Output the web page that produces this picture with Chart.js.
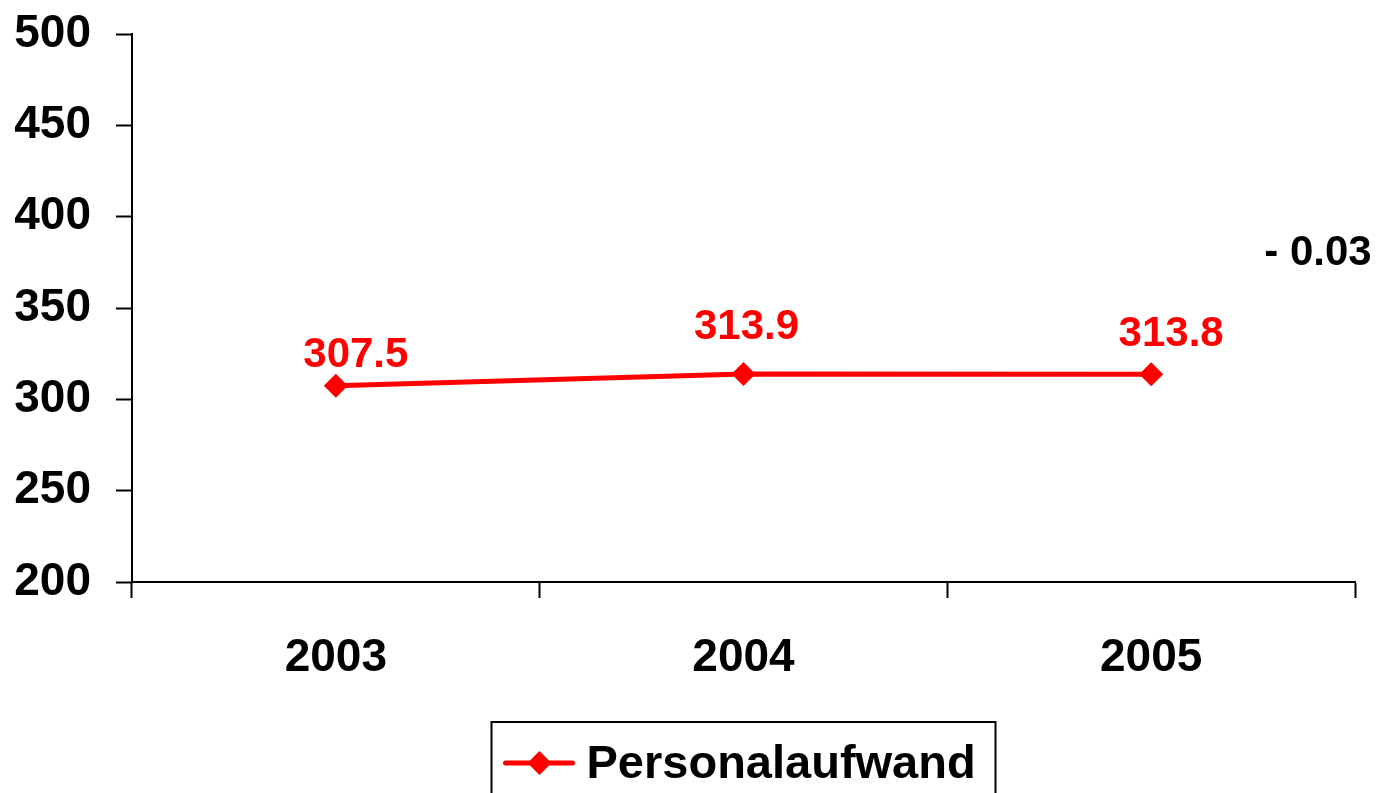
<!DOCTYPE html>
<html>
<head>
<meta charset="utf-8">
<script src="https://cdn.jsdelivr.net/npm/chart.js@4/dist/chart.umd.min.js"></script>
<style>
  html, body { margin: 0; padding: 0; background: #fff; }
  #wrap { width: 1378px; height: 793px; position: relative; }
</style>
</head>
<body>
<div id="wrap"><canvas id="lineChart"></canvas></div>
<script>
const years = ['2003', '2004', '2005'];
const personalaufwand = [307.5, 313.9, 313.8];
const seriesName = 'Personalaufwand';
const changeNote = '- 0.03';
const yTicks = [200, 250, 300, 350, 400, 450, 500];

const FONT = 'Liberation Sans, Arial, sans-serif';
const RED = '#ff0000';

// value labels above each point
const valueLabels = {
    id: 'valueLabels',
    afterDatasetsDraw(chart) {
        const ctx = chart.ctx;
        const meta = chart.getDatasetMeta(0);
        const dx = [20, 3, 20];
        const dy = [-19, -35, -28];
        ctx.save();
        ctx.font = 'bold 42px ' + FONT;
        ctx.fillStyle = RED;
        ctx.textAlign = 'center';
        ctx.textBaseline = 'alphabetic';
        meta.data.forEach((pt, i) => {
            ctx.fillText(personalaufwand[i].toFixed(1), pt.x + dx[i], pt.y + dy[i]);
        });
        // change note at right
        ctx.fillStyle = '#000';
        ctx.textBaseline = 'middle';
        ctx.fillText(changeNote, 1318, 253);
        ctx.restore();
    }
};

// boxed legend under the axis
const boxLegend = {
    id: 'boxLegend',
    afterDraw(chart) {
        const ctx = chart.ctx;
        const area = chart.chartArea;
        const cx = (area.left + area.right) / 2;
        const w = 504, h = 80;
        const left = cx - w / 2, top = 722;
        ctx.save();
        ctx.strokeStyle = '#000';
        ctx.lineWidth = 2;
        ctx.strokeRect(left, top, w, h);
        const ly = top + 41;
        ctx.strokeStyle = RED;
        ctx.lineWidth = 5;
        ctx.lineCap = 'round';
        ctx.beginPath();
        ctx.moveTo(left + 14, ly);
        ctx.lineTo(left + 81, ly);
        ctx.stroke();
        ctx.fillStyle = RED;
        ctx.beginPath();
        ctx.moveTo(left + 48, ly - 12);
        ctx.lineTo(left + 60, ly);
        ctx.lineTo(left + 48, ly + 12);
        ctx.lineTo(left + 36, ly);
        ctx.closePath();
        ctx.fill();
        ctx.fillStyle = '#000';
        ctx.font = 'bold 47px ' + FONT;
        ctx.textAlign = 'left';
        ctx.textBaseline = 'middle';
        ctx.fillText(seriesName, left + 95, ly + 2);
        ctx.restore();
    }
};

new Chart(document.getElementById('lineChart'), {
    type: 'line',
    data: {
        labels: years,
        datasets: [{
            label: seriesName,
            data: personalaufwand,
            borderColor: RED,
            backgroundColor: RED,
            borderWidth: 5,
            pointStyle: 'rectRot',
            pointRadius: 12,
            pointHoverRadius: 12,
            pointBackgroundColor: RED,
            pointBorderWidth: 0,
            tension: 0,
        }]
    },
    options: {
        responsive: true,
        maintainAspectRatio: false,
        animation: false,
        layout: { padding: { left: 0, right: 23, top: 34, bottom: 0 } },
        plugins: {
            legend: { display: false },
            tooltip: { enabled: false },
        },
        scales: {
            x: {
                offset: true,
                grid: {
                    display: true,
                    drawOnChartArea: false,
                    offset: true,
                    tickLength: 16,
                    tickWidth: 2,
                    tickColor: '#000',
                },
                border: { color: '#000', width: 2 },
                ticks: {
                    color: '#000',
                    font: { family: FONT, size: 46, weight: 'bold' },
                    padding: 33,
                    maxRotation: 0,
                },
                afterFit(scale) {
                    scale.height = 211;
                    scale.paddingLeft = 0;
                    scale.paddingRight = 0;
                },
            },
            y: {
                min: 200,
                max: 500,
                afterBuildTicks(scale) { scale.ticks = yTicks.map(v => ({ value: v })); },
                grid: {
                    display: true,
                    drawOnChartArea: false,
                    tickLength: 16,
                    tickWidth: 2,
                    tickColor: '#000',
                },
                border: { color: '#000', width: 2 },
                ticks: {
                    color: '#000',
                    font: { family: FONT, size: 46, weight: 'bold' },
                    padding: 25,
                },
                afterFit(scale) {
                    scale.width = 132;
                    scale.paddingTop = 0;
                    scale.paddingBottom = 0;
                },
            }
        }
    },
    plugins: [valueLabels, boxLegend]
});
</script>
</body>
</html>
